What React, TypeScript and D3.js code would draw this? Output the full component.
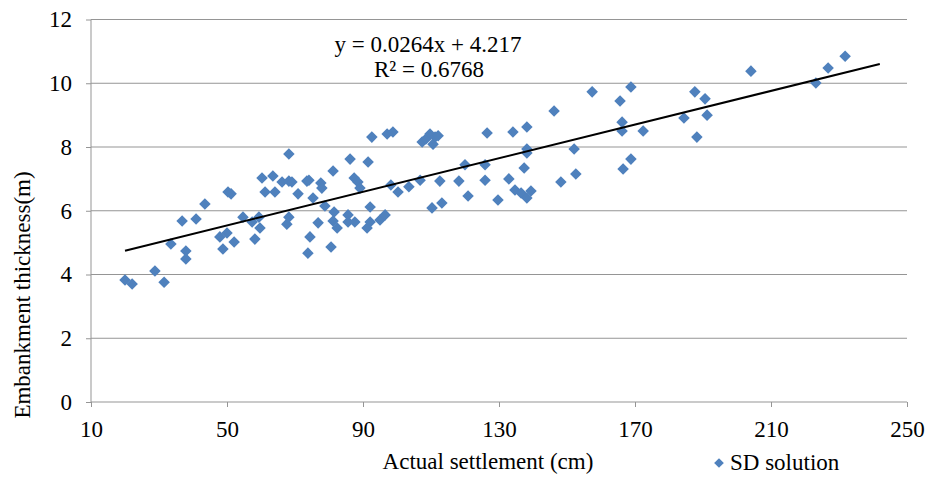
import { useEffect, useRef } from 'react';
import * as d3 from 'd3';

// Actual settlement (cm)
const settlement = [
  20.0, 22.1, 28.8, 31.5, 33.5, 36.8, 37.9, 37.9, 40.9, 43.5,
  47.9, 48.8, 50.0, 50.3, 51.2, 52.1, 54.7, 57.4, 58.2, 59.4,
  59.7, 60.3, 61.2, 63.5, 64.1, 66.2, 67.6, 68.2, 68.2, 68.2,
  69.1, 70.9, 73.5, 74.1, 74.4, 73.8, 75.3, 76.8, 77.6, 77.9,
  78.8, 81.2, 81.5, 81.2, 82.4, 80.6, 85.6, 85.6, 87.6, 86.2,
  87.4, 88.5, 89.1, 91.5, 92.1, 91.2, 92.1, 92.6, 95.0, 96.5,
  97.1, 98.8, 98.2, 100.3, 103.5, 106.8, 107.4, 108.5, 109.7, 110.6,
  111.2, 112.1, 110.3, 113.2, 112.6, 118.2, 120.0, 120.9, 125.9, 125.9,
  126.5, 129.7, 132.9, 134.1, 134.7, 136.5, 138.2, 139.4, 137.4, 138.2,
  138.2, 138.2, 146.2, 148.2, 152.1, 152.6, 157.4, 165.6, 166.2, 166.2,
  166.5, 168.8, 168.8, 172.4, 184.4, 187.6, 188.2, 190.6, 191.2, 204.1,
  223.2, 226.8, 231.8,
];

// Embankment thickness (m)
const thickness = [
  3.83, 3.70, 4.11, 3.76, 4.96, 5.68, 4.74, 4.49, 5.74, 6.21,
  5.18, 4.80, 5.30, 6.59, 6.53, 5.02, 5.80, 5.65, 5.11, 5.80,
  5.46, 7.03, 6.59, 7.09, 6.59, 6.90, 5.58, 5.80, 7.78, 6.93,
  6.90, 6.53, 6.93, 6.96, 5.18, 4.67, 6.40, 5.62, 6.87, 6.71,
  6.15, 7.25, 5.96, 5.68, 5.46, 4.86, 5.87, 5.65, 5.65, 7.62,
  7.03, 6.90, 6.71, 7.53, 6.12, 5.46, 5.65, 8.31, 5.71, 5.87,
  8.41, 8.47, 6.81, 6.59, 6.75, 6.96, 8.16, 8.25, 8.41, 8.09,
  8.31, 8.35, 6.09, 6.24, 6.93, 6.93, 7.44, 6.46, 7.44, 6.96,
  8.44, 6.34, 7.00, 8.47, 6.65, 6.56, 6.40, 6.62, 7.34, 8.63,
  7.94, 7.81, 9.13, 6.90, 7.94, 7.15, 9.73, 9.44, 8.78, 8.50,
  7.31, 9.88, 7.62, 8.50, 8.91, 9.73, 8.31, 9.51, 9.00, 10.38,
  10.01, 10.48, 10.85,
];

const xTicks = [10, 50, 90, 130, 170, 210, 250];
const yTicks = [0, 2, 4, 6, 8, 10, 12];

// linear trend line shown in the chart
const slope = 0.0264;
const intercept = 4.217;
const trendRange = [20, 242];

const seriesName = 'SD solution';
const eqText = 'y = 0.0264x + 4.217';
const r2Text = 'R² = 0.6768';

export default function App() {
  const svgRef = useRef<SVGSVGElement>(null);
  const width = 929;
  const height = 477;

  useEffect(() => {
    const svg = d3.select(svgRef.current);
    svg.selectAll('*').remove();

    const font = "'Liberation Serif', 'Times New Roman', serif";
    const fontSize = 23;
    const gridColor = '#959595';
    const margin = { top: 19.5, right: 22, bottom: 75, left: 91 };
    const innerW = width - margin.left - margin.right;
    const innerH = height - margin.top - margin.bottom;

    const x = d3.scaleLinear().domain([10, 250]).range([0, innerW]);
    const y = d3.scaleLinear().domain([0, 12]).range([innerH, 0]);

    const g = svg.append('g')
      .attr('transform', `translate(${margin.left},${margin.top})`);

    // horizontal grid
    g.selectAll('.grid')
      .data(yTicks.filter(d => d > 0))
      .enter().append('line')
      .attr('x1', 0)
      .attr('x2', innerW)
      .attr('y1', d => y(d))
      .attr('y2', d => y(d))
      .attr('stroke', gridColor)
      .attr('stroke-width', 1);

    // y axis
    const yAxis = g.append('g')
      .call(d3.axisLeft(y).tickValues(yTicks).tickSize(5).tickPadding(14).tickFormat(d3.format('d')));
    // x axis
    const xAxis = g.append('g')
      .attr('transform', `translate(0,${innerH})`)
      .call(d3.axisBottom(x).tickValues(xTicks).tickSize(5).tickPadding(14).tickFormat(d3.format('d')));

    [xAxis, yAxis].forEach(ax => {
      ax.attr('font-family', font).attr('font-size', fontSize);
      ax.selectAll('.domain').attr('stroke', gridColor);
      ax.selectAll('.tick line').attr('stroke', gridColor);
      ax.selectAll('text').attr('fill', '#000');
    });
    yAxis.selectAll('.domain').attr('d', `M0,${innerH}V0`);
    xAxis.selectAll('.domain').attr('d', `M0,0H${innerW}`);

    // points
    const diamond = d3.symbol().type(d3.symbolDiamond2).size(85);
    const pts = settlement.map((s, i) => ({ s, t: thickness[i] }));
    g.selectAll('.pt')
      .data(pts)
      .enter().append('path')
      .attr('d', diamond)
      .attr('transform', d => `translate(${x(d.s)},${y(d.t)})`)
      .attr('fill', '#4f81bd');

    // trend line
    g.append('line')
      .attr('x1', x(trendRange[0]))
      .attr('y1', y(slope * trendRange[0] + intercept))
      .attr('x2', x(trendRange[1]))
      .attr('y2', y(slope * trendRange[1] + intercept))
      .attr('stroke', '#000')
      .attr('stroke-width', 2);

    const label = svg.append('g')
      .attr('font-family', font)
      .attr('font-size', fontSize)
      .attr('fill', '#000');

    // equation
    label.append('text')
      .attr('x', 428).attr('y', 52)
      .attr('text-anchor', 'middle')
      .text(eqText);
    label.append('text')
      .attr('x', 429).attr('y', 77)
      .attr('text-anchor', 'middle')
      .text(r2Text);

    // axis titles
    label.append('text')
      .attr('x', 488).attr('y', 469)
      .attr('text-anchor', 'middle')
      .text('Actual settlement (cm)');
    label.append('text')
      .attr('transform', 'translate(30,295) rotate(-90)')
      .attr('text-anchor', 'middle')
      .text('Embankment thickness(m)');

    // legend
    label.append('path')
      .attr('d', d3.symbol().type(d3.symbolDiamond2).size(60)())
      .attr('transform', 'translate(719,463)')
      .attr('fill', '#4f81bd');
    label.append('text')
      .attr('x', 730).attr('y', 470)
      .text(seriesName);
  }, []);

  return (
    <svg
      ref={svgRef}
      width={width}
      height={height}
      style={{ position: 'absolute', left: 0, top: 0, background: '#fff' }}
    />
  );
}
